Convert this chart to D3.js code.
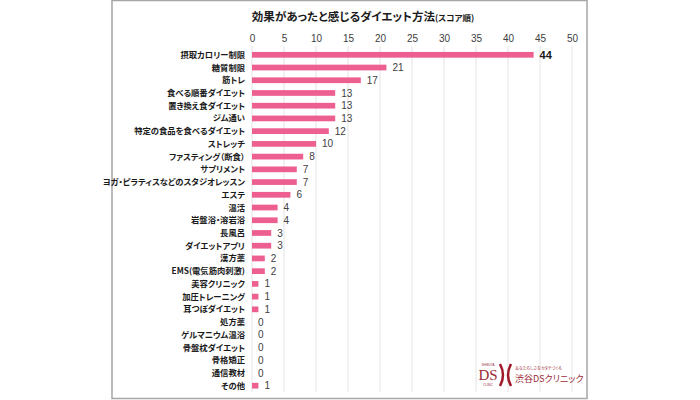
<!DOCTYPE html>
<html><head><meta charset="utf-8">
<script src="https://cdn.jsdelivr.net/npm/d3@7"></script>
<style>body{margin:0;background:#fff}svg{display:block}text{font-feature-settings:"palt"}</style>
</head><body>
<svg id="c" width="700" height="400"></svg>
<script>
const categories = ["摂取カロリー制限","糖質制限","筋トレ","食べる順番ダイエット","置き換え食ダイエット","ジム通い","特定の食品を食べるダイエット","ストレッチ","ファスティング（断食）","サプリメント","ヨガ・ピラティスなどのスタジオレッスン","エステ","温活","岩盤浴・溶岩浴","長風呂","ダイエットアプリ","漢方薬","EMS(電気筋肉刺激)","美容クリニック","加圧トレーニング","耳つぼダイエット","処方薬","ゲルマニウム温浴","骨盤枕ダイエット","骨格矯正","通信教材","その他"];
const values = [44,21,17,13,13,13,12,10,8,7,7,6,4,4,3,3,2,2,1,1,1,0,0,0,0,0,1];
const ticks = [0,5,10,15,20,25,30,35,40,45,50];
const titleMain = "効果があったと感じるダイエット方法";
const titleSub = "(スコア順)";

const svg = d3.select("#c");
const font = "'Noto Sans CJK JP','Noto Sans',sans-serif";
const numFont = "'Liberation Sans','DejaVu Sans',sans-serif";
// frame
svg.append("rect").attr("x",112).attr("y",0.5).attr("width",475).attr("height",398)
  .attr("fill","#fff").attr("stroke","#a6a6a6").attr("stroke-width",1.5);

const x = d3.scaleLinear().domain([0,50]).range([252,572]);
const y = d3.scaleBand().domain(categories).range([48.5,392]).paddingInner(0.55).paddingOuter(0.27);

// gridlines
svg.append("g").selectAll("line").data(ticks).join("line")
  .attr("x1",d=>x(d)).attr("x2",d=>x(d)).attr("y1",46).attr("y2",392)
  .attr("stroke","#e3e3e3").attr("stroke-width",1);

// top axis labels
const ax = svg.append("g").attr("transform","translate(0,42)")
  .call(d3.axisTop(x).tickValues(ticks).tickSize(0).tickPadding(0));
ax.select(".domain").remove();
ax.selectAll("text").attr("font-family",numFont).attr("font-size",10).attr("fill","#404040");

// title
const t = svg.append("text").attr("x",363).attr("y",21).attr("text-anchor","middle")
  .attr("font-family",font).attr("font-weight","bold").attr("fill","#1a1a1a");
t.append("tspan").attr("font-size",11.5).text(titleMain);
t.append("tspan").attr("font-size",8.5).text(titleSub);

// bars
svg.append("g").selectAll("rect").data(values).join("rect")
  .attr("x",x(0)).attr("y",(d,i)=>y(categories[i]))
  .attr("width",d=>x(d)-x(0)).attr("height",y.bandwidth())
  .attr("fill","#ee5f91");

// category labels
svg.append("g").selectAll("text").data(categories).join("text")
  .attr("x",245).attr("y",d=>y(d)+y.bandwidth()/2).attr("dy","0.36em")
  .attr("text-anchor","end").attr("font-family",font).attr("font-size",8.3)
  .attr("font-weight","bold").attr("fill","#1a1a1a").text(d=>d);

// value labels
svg.append("g").selectAll("text").data(values).join("text")
  .attr("x",d=>x(d)+6).attr("y",(d,i)=>y(categories[i])+y.bandwidth()/2).attr("dy","0.36em")
  .attr("font-family",numFont).attr("font-size",(d,i)=>i===0?11:10)
  .attr("font-weight",(d,i)=>i===0?"bold":"normal")
  .attr("fill",(d,i)=>i===0?"#1a1a1a":"#404040").text(d=>d);

// logo
const lg = svg.append("g").attr("transform","translate(478,362)");
lg.append("text").attr("x",10).attr("y",18).attr("text-anchor","middle")
  .attr("font-family","'Liberation Serif',serif").attr("font-size",15).attr("fill","#9b2b3a").text("DS");
lg.append("text").attr("x",10).attr("y",4).attr("text-anchor","middle")
  .attr("font-family",numFont).attr("font-size",3).attr("fill","#9b2b3a").text("SHIBUYA");
lg.append("text").attr("x",10).attr("y",24).attr("text-anchor","middle")
  .attr("font-family",numFont).attr("font-size",3).attr("fill","#9b2b3a").text("CLINIC");
lg.append("path").attr("d","M22,2 Q28,13 22,24").attr("fill","none").attr("stroke","#a01828").attr("stroke-width",2.5);
lg.append("path").attr("d","M33,2 Q27,13 33,24").attr("fill","none").attr("stroke","#a01828").attr("stroke-width",2.5);
lg.append("text").attr("x",37).attr("y",8).attr("font-family",font).attr("font-size",4).attr("fill","#9b2b3a").text("あなたらしさをカタチづくる");
lg.append("text").attr("x",37).attr("y",20).attr("font-family",font).attr("font-size",9).attr("fill","#9b2b3a").text("渋谷DSクリニック");
</script>
</body></html>
